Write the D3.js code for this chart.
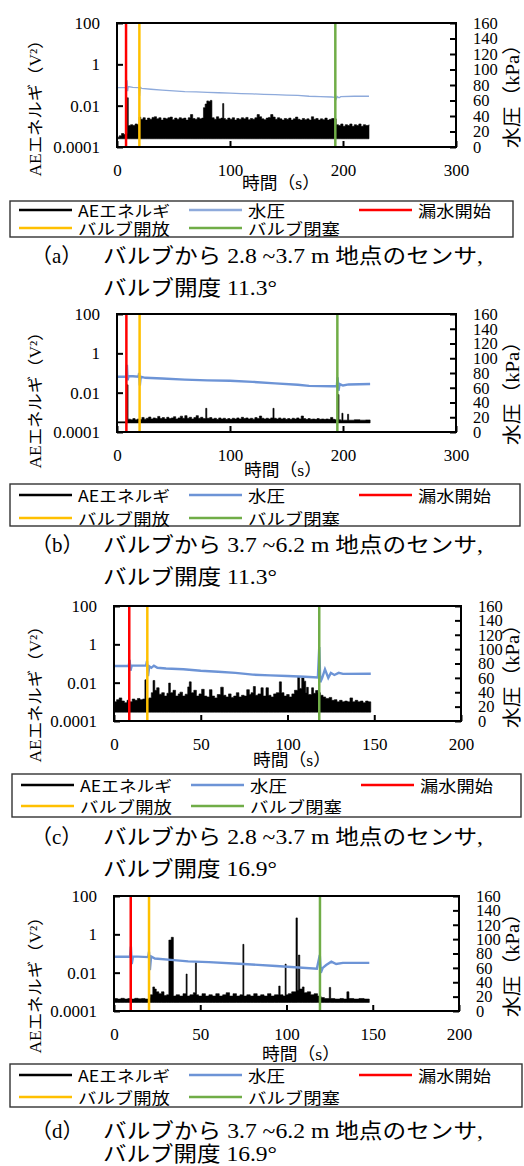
<!DOCTYPE html>
<html>
<head>
<meta charset="utf-8">
<script src="https://cdn.jsdelivr.net/npm/d3@7"></script>
<style>
body { margin: 0; background: #fff; }
svg { display: block; }
</style>
</head>
<body>
<div id="chart-area"></div>
<script>
// ---------- data ----------
// AE energy upper envelope [time s, V^2]
var aeA = [[0,3.0e-4],[2,3.5e-4],[4,4.5e-4],[6,4.0e-4],[8,4.5e-4],[9,0.024],[10,1.1e-3],[12,1.2e-3],[14,1.1e-3],[16,1.3e-3],[18,1.2e-3],
  [19.5,2.8e-3],[21,2.2e-3],[23,2.6e-3],[25,2.0e-3],[27,2.5e-3],[29,2.2e-3],[31,2.7e-3],[33,2.9e-3],[35,2.3e-3],[37,2.6e-3],[39,2.0e-3],
  [41,2.5e-3],[43,2.3e-3],[45,2.6e-3],[47,2.8e-3],[49,2.1e-3],[51,2.5e-3],[53,2.2e-3],[55,2.6e-3],[57,2.3e-3],[59,2.5e-3],[61,2.0e-3],
  [63,2.6e-3],[65,3.7e-3],[67,2.4e-3],[69,2.2e-3],[71,2.6e-3],[73,2.3e-3],[75,2.5e-3],[76.5,8e-3],[78,0.012],[79.5,0.017],[81,0.016],
  [82.5,0.018],[84,2.6e-3],[86,2.2e-3],[88,2.9e-3],[90,2.3e-3],[92,2.5e-3],[93.5,0.0126],[94.5,2.4e-3],[96,2.1e-3],[98,2.5e-3],
  [100,2.2e-3],[102,2.6e-3],[104,2.0e-3],[106,2.4e-3],[108,2.2e-3],[110,2.6e-3],[112,2.3e-3],[114,2.7e-3],[116,2.1e-3],[118,2.4e-3],
  [120,2.2e-3],[122,2.6e-3],[124,3.7e-3],[126,2.9e-3],[128,2.3e-3],[130,2.1e-3],[132,2.5e-3],[134,2.7e-3],[136,3.7e-3],[138,2.8e-3],
  [140,2.2e-3],[142,2.6e-3],[144,2.3e-3],[146,2.0e-3],[148,2.4e-3],[150,2.2e-3],[152,2.5e-3],[154,2.0e-3],[156,2.3e-3],[158,2.8e-3],
  [160,2.2e-3],[162,2.0e-3],[164,2.4e-3],[166,2.1e-3],[168,2.3e-3],[170,2.0e-3],[172,2.9e-3],[174,2.2e-3],[176,2.4e-3],[178,2.0e-3],
  [180,2.3e-3],[182,2.1e-3],[184,2.5e-3],[186,2.0e-3],[188,2.2e-3],[190,2.4e-3],[192,2.3e-3],[194,1.2e-3],[196,1.1e-3],[198,1.3e-3],
  [200,1.0e-3],[202,1.2e-3],[204,1.1e-3],[206,1.3e-3],[208,1.0e-3],[210,1.2e-3],[212,1.1e-3],[214,1.3e-3],[216,1.0e-3],[218,1.2e-3],
  [220,1.1e-3],[223,1.2e-3]];
var aeB = [[0,3.3e-4],[8.8,3.3e-4],[9,0.025],[9.8,4.5e-4],[12,4.2e-4],[14,4.8e-4],[16,4.2e-4],[18,4.6e-4],[20,4.3e-4],[22,5.5e-4],
  [24,4.5e-4],[26,5.0e-4],[28,5.8e-4],[30,4.6e-4],[32,5.2e-4],[34,4.8e-4],[36,6.2e-4],[38,4.8e-4],[40,5.4e-4],[42,4.6e-4],[44,5.6e-4],
  [46,4.8e-4],[48,5.2e-4],[50,6.0e-4],[52,4.6e-4],[54,5.2e-4],[56,6.4e-4],[58,5.0e-4],[60,6.8e-4],[62,5.0e-4],[64,5.6e-4],[66,4.6e-4],
  [68,5.4e-4],[70,6.8e-4],[72,5.0e-4],[74,5.6e-4],[76,4.8e-4],[78.5,1.6e-3],[79.5,5.0e-4],[82,5.4e-4],[84,4.6e-4],[86,5.0e-4],
  [88,4.4e-4],[90,5.2e-4],[92,4.6e-4],[94,5.0e-4],[96,4.4e-4],[98,4.8e-4],[100,4.4e-4],[102,5.0e-4],[104,4.6e-4],[106,5.2e-4],
  [108,4.6e-4],[110,5.6e-4],[112,4.8e-4],[114,5.2e-4],[116,4.6e-4],[118,5.0e-4],[120,4.5e-4],[122,5.4e-4],[124,4.8e-4],[126,6.5e-4],
  [128,5.0e-4],[130,4.6e-4],[132,5.0e-4],[134,4.6e-4],[136,5.2e-4],[138,1.6e-3],[139,5.0e-4],[141,4.6e-4],[143,5.2e-4],[145,4.6e-4],
  [147,5.0e-4],[149,4.4e-4],[151,4.8e-4],[153,4.4e-4],[155,5.0e-4],[157,4.6e-4],[159,5.2e-4],[161,4.6e-4],[163,6.5e-4],[165,4.8e-4],
  [167,4.4e-4],[169,4.8e-4],[171,4.4e-4],[173,4.6e-4],[175,4.4e-4],[177,4.8e-4],[179,4.4e-4],[181,4.6e-4],[183,4.4e-4],[185,4.6e-4],
  [187,4.4e-4],[189,5.5e-4],[191,4.4e-4],[193,4.2e-4],[195.5,8e-3],[196.5,4.2e-4],[198,4.0e-4],[199,9e-4],[200,4.0e-4],[204,8e-4],
  [205,4.0e-4],[210,4.2e-4],[215,4.0e-4],[220,4.1e-4],[224,4.0e-4]];
var aeC = [[0,1.0e-3],[1.5,1.3e-3],[3,1.6e-3],[4.5,1.1e-3],[6,9e-4],[7.5,1.2e-3],[9,1.0e-3],[10.5,1.4e-3],[12,1.2e-3],[13.5,1.5e-3],
  [15,1.3e-3],[16.5,1.4e-3],[17.8,0.014],[18.6,1.4e-3],[20,1.6e-3],[21.5,3e-3],[22.5,0.013],[23.5,4e-3],[24.6,5.4e-3],[26,2.5e-3],
  [27.5,3e-3],[29,2e-3],[30.5,2.8e-3],[31.5,9.5e-3],[32.5,3e-3],[34,4e-3],[35.5,2e-3],[37,2.6e-3],[38,3.2e-3],[39.5,2e-3],[41,2.5e-3],
  [42.5,6e-3],[43.4,0.011],[44.5,3e-3],[46,4e-3],[47.5,2e-3],[49,2.6e-3],[50.5,4.5e-3],[52,2e-3],[53.5,1.8e-3],[55,4.3e-3],[56.5,2e-3],
  [58,1.6e-3],[59.5,2.4e-3],[61.5,5.8e-3],[63,2.2e-3],[64.5,1.8e-3],[66,2.6e-3],[67.5,1.7e-3],[69,2e-3],[70.5,3e-3],[72,1.8e-3],
  [73.5,2.2e-3],[75,2e-3],[76.5,4.3e-3],[78,2.4e-3],[79,3e-3],[80.3,6.3e-3],[81.5,2.2e-3],[83,2.6e-3],[84.7,5.4e-3],[86,2e-3],
  [87.6,5.4e-3],[89,2.2e-3],[90.5,1.8e-3],[92,2.6e-3],[93.5,3e-3],[95.3,0.011],[96.5,3e-3],[98,2e-3],[99.5,2.4e-3],[101,1.8e-3],
  [102.5,2.6e-3],[104,4e-3],[105.9,0.021],[107,5e-3],[108.2,0.018],[109.5,0.012],[110.5,3e-3],[111,5.7e-3],[112,2.4e-3],[113.9,5.4e-3],
  [115,2.8e-3],[116.2,3.9e-3],[117.5,3e-3],[119,2.2e-3],[120.5,1.8e-3],[122,1.5e-3],[124,1.7e-3],[125.5,1.2e-3],[127,1.3e-3],
  [128.5,1.0e-3],[130,1.2e-3],[131.5,1.0e-3],[133,1.1e-3],[134.5,1.0e-3],[136,1.6e-3],[137.5,1.0e-3],[139,1.2e-3],[140.5,1.0e-3],
  [142,1.1e-3],[143.5,9e-4],[145,1.1e-3],[146.5,1.0e-3],[148,1.0e-3]];
var aeD = [[0,4.5e-4],[2,4.2e-4],[4,4.6e-4],[6,4.2e-4],[8,4.5e-4],[10,4.2e-4],[12,4.6e-4],[14,4.3e-4],[16,4.5e-4],[18,4.2e-4],
  [20,5e-4],[21,7e-4],[22.5,1.8e-3],[23.5,1.4e-3],[24.5,1.0e-3],[26,8e-4],[27.5,1.0e-3],[29,6.5e-4],[30.5,7e-4],[31.8,0.5],[33.2,0.7],
  [34.4,6e-4],[36,7e-4],[38,6e-4],[40,8e-4],[41.8,8.5e-3],[42.4,6e-4],[44,7e-4],[46,9e-4],[47.2,0.033],[47.8,7e-4],[49,6e-4],[51,8e-4],
  [53,6e-4],[55,7e-4],[57,6e-4],[59,8e-4],[61,6e-4],[63,7e-4],[65,9e-4],[67,6e-4],[69,8e-4],[71,6e-4],[73,7e-4],[74.7,0.3],[75.3,6e-4],
  [77,7e-4],[79,6e-4],[81,8e-4],[83,6e-4],[85,7e-4],[87,6e-4],[89,8e-4],[91,6e-4],[93,7e-4],[95.5,2e-3],[96.3,7e-4],[98,6e-4],
  [99.2,0.028],[99.8,7e-4],[101,8e-4],[103,1e-3],[105.5,7.2],[106.3,1.2e-3],[106.9,0.083],[107.7,1.4e-3],[109.2,1.8e-3],[110.2,9e-4],
  [112,1e-3],[114,7e-4],[116,8e-4],[118,6e-4],[120,5e-4],[122,4.5e-4],[124.8,1.7e-3],[125.6,4.5e-4],[128,4.2e-4],[131,4.5e-4],
  [133,4.2e-4],[135,1e-3],[136.2,4.5e-4],[139,4.2e-4],[142,4.5e-4],[145,4.2e-4],[148,4.2e-4]];
// lower edge of the AE band, V^2
var aeFloor = [2.5e-4, 2.9e-4, 2.9e-4, 2.8e-4];

// water pressure [time s, kPa]
var pressA = [[0,76.5],[8.5,76.5],[8.9,86],[9.4,72],[10,78],[14,77],[19,76.5],[19.6,75],[20,66],[20.6,77],[22,75.5],[30,74.5],
  [40,73.5],[50,72.5],[60,71.5],[70,71],[80,70.5],[90,70],[100,69.5],[110,69],[120,68.5],[130,68],[140,67.5],[150,67],[160,66.5],
  [170,65.5],[180,65],[190,64.5],[192.5,64],[193.3,68],[194,62],[195,65],[196.5,63.5],[198,65],[210,65.5],[223,65.5]];
var pressB = [[0,75],[8,75],[8.8,91],[9.4,70],[10.2,76],[14,75.5],[19,75],[19.6,80],[20.2,63],[21,75],[25,73.5],[40,72.5],[60,71],
  [80,70],[100,69.5],[120,68],[140,66],[160,64],[170,62.5],[190,62],[194.5,62],[195.2,74],[196,56],[197,65],[200,63],[205,64.5],[224,65]];
var pressC = [[0,76.5],[8.5,76.5],[9,85],[9.5,70],[10.2,77],[18.5,77],[19,83.5],[19.6,62.5],[20.3,76],[21.5,74],[23,77],[25,74],
  [30,73],[40,72],[50,70],[60,68.6],[70,67],[80,64.5],[90,63.5],[100,62.6],[110,61.5],[117.5,60.5],[118.3,103],[118.9,54],[120,60],
  [121.6,72],[123.5,60],[125,67],[127,64],[129.5,67],[132,65.5],[148,65.7]];
var pressD = [[0,75.5],[9.3,75.5],[9.8,89.5],[10.3,65.4],[11,76],[19.8,75],[20.3,82.5],[20.8,57],[21.5,76],[23.7,73],[33,71.1],
  [43,69],[55,68],[75,65.4],[94,62.6],[117.6,58.9],[119.3,78],[119.9,53.3],[121,60],[123,64],[126,68.6],[128.8,65.4],[132.7,67],[148,67]];

// event times: leak start, valve open, valve closed (s)
var eventsA = [8, 19.8, 193.2];
var eventsB = [8.3, 20, 195];
var eventsC = [8.8, 19.2, 118.3];
var eventsD = [9.7, 20.3, 119.4];

// ticks and labels
var xTicks300 = [0, 100, 200, 300];
var xTicks200 = [0, 50, 100, 150, 200];
var aeTicks = [100, 1, 0.01, 0.0001];
var aeTickText = ['100', '1', '0.01', '0.0001'];
var pressTicks = [0, 20, 40, 60, 80, 100, 120, 140, 160];
var legendNames = ['AEエネルギ', '水圧', '漏水開始', 'バルブ開放', 'バルブ閉塞'];
var captionTags = ['（a）', '（b）', '（c）', '（d）'];
var captionMain = ['バルブから 2.8 ~3.7 m 地点のセンサ,', 'バルブから 3.7 ~6.2 m 地点のセンサ,',
                   'バルブから 2.8 ~3.7 m 地点のセンサ,', 'バルブから 3.7 ~6.2 m 地点のセンサ,'];
var captionSub = ['バルブ開度 11.3°', 'バルブ開度 11.3°', 'バルブ開度 16.9°', 'バルブ開度 16.9°'];
var yTitle = 'AEエネルギ（V²）', y2Title = '水圧（kPa）', xTitle = '時間（s）';

// ---------- layout ----------
var eventColors = ['#ff0000', '#ffc000', '#70ad47'];
var serif = '"Liberation Serif", "Noto Sans CJK JP", serif';
var sans = '"Noto Sans CJK JP", sans-serif';

var panels = [
  {ae: aeA, press: pressA, events: eventsA, xMax: 300, xTicks: xTicks300, left: 117, right: 456, top: 23, bottom: 147,
   pColor: '#8eaadb', pWidth: 1.3, yT: 104, y2T: 91, xT: [281, 183], leg: [10, 201, 503, 36, 9, 27], cap: [256, 288]},
  {ae: aeB, press: pressB, events: eventsB, xMax: 300, xTicks: xTicks300, left: 117, right: 456, top: 314, bottom: 432,
   pColor: '#6d94d6', pWidth: 2.4, yT: 396, y2T: 388, xT: [283, 470], leg: [10, 484, 510, 42, 11, 34], cap: [545, 577]},
  {ae: aeC, press: pressC, events: eventsC, xMax: 200, xTicks: xTicks200, left: 114, right: 461, top: 606, bottom: 721,
   pColor: '#6d94d6', pWidth: 2.4, yT: 690, y2T: 671, xT: [292, 760], leg: [12, 774, 509, 43, 11, 32], cap: [837, 869]},
  {ae: aeD, press: pressD, events: eventsD, xMax: 200, xTicks: xTicks200, left: 114, right: 459, top: 896, bottom: 1011,
   pColor: '#6d94d6', pWidth: 2.4, yT: 981, y2T: 960, xT: [301, 1054], leg: [10, 1064, 512, 43, 11, 33], cap: [1131, 1154]}
];

var svg = d3.select('#chart-area').append('svg')
    .attr('width', 524)
    .attr('height', 1166);

panels.forEach(function(p, i) {
  var g = svg.append('g');

  var x = d3.scaleLinear().domain([0, p.xMax]).range([p.left, p.right]);
  var yL = d3.scaleLog().domain([1e-4, 100]).range([p.bottom, p.top]);
  var yR = d3.scaleLinear().domain([0, 160]).range([p.bottom, p.top]);

  //AE energy band
  var area = d3.area()
    .curve(d3.curveStepAfter)
    .x(function(d) { return x(d[0]); })
    .y0(yL(aeFloor[i]))
    .y1(function(d) { return yL(d[1]); });
  g.append('path')
    .datum(p.ae)
    .attr('d', area)
    .attr('fill', '#000')
    .attr('stroke', '#000')
    .attr('stroke-width', 0.6);

  //water pressure
  var line = d3.line()
    .x(function(d) { return x(d[0]); })
    .y(function(d) { return yR(d[1]); });
  g.append('path')
    .datum(p.press)
    .attr('d', line)
    .attr('fill', 'none')
    .attr('stroke', p.pColor)
    .attr('stroke-width', p.pWidth);

  //event lines
  g.selectAll('.event')
    .data(p.events)
    .enter().append('line')
    .attr('x1', function(d) { return x(d); })
    .attr('x2', function(d) { return x(d); })
    .attr('y1', p.top)
    .attr('y2', p.bottom)
    .attr('stroke', function(d, k) { return eventColors[k]; })
    .attr('stroke-width', 2.5);

  //axes
  var xAxis = g.append('g')
    .attr('transform', 'translate(0,' + p.bottom + ')')
    .call(d3.axisBottom(x).tickValues(p.xTicks).tickSize(-6).tickPadding(17));
  var yAxis = g.append('g')
    .attr('transform', 'translate(' + p.left + ',0)')
    .call(d3.axisLeft(yL).tickValues(aeTicks).tickSize(-6).tickPadding(17)
      .tickFormat(function(d, k) { return aeTickText[k]; }));
  var y2Axis = g.append('g')
    .attr('transform', 'translate(' + p.right + ',0)')
    .call(d3.axisRight(yR).tickValues(pressTicks).tickSize(-6).tickPadding(17));

  [xAxis, yAxis, y2Axis].forEach(function(a) {
    a.attr('font-family', serif).attr('font-size', 17);
    a.select('.domain').remove();
    a.selectAll('line').attr('stroke', '#000').attr('stroke-width', 2);
    a.selectAll('text').attr('fill', '#000').attr('font-family', serif);
  });
  y2Axis.attr('font-size', 16.5);

  //plot frame
  g.append('rect')
    .attr('x', p.left)
    .attr('y', p.top)
    .attr('width', p.right - p.left)
    .attr('height', p.bottom - p.top)
    .attr('fill', 'none')
    .attr('stroke', '#000')
    .attr('stroke-width', 2);

  //axis titles
  g.append('text')
    .attr('transform', 'translate(35,' + p.yT + ') rotate(-90)')
    .attr('text-anchor', 'middle')
    .attr('dominant-baseline', 'central')
    .attr('font-family', serif)
    .attr('font-size', 16)
    .attr('textLength', 145)
    .attr('lengthAdjust', 'spacingAndGlyphs')
    .text(yTitle);
  g.append('text')
    .attr('transform', 'translate(512,' + p.y2T + ') rotate(-90)')
    .attr('text-anchor', 'middle')
    .attr('dominant-baseline', 'central')
    .attr('font-family', serif)
    .attr('font-size', 19)
    .attr('textLength', 114)
    .attr('lengthAdjust', 'spacingAndGlyphs')
    .text(y2Title);
  g.append('text')
    .attr('x', p.xT[0])
    .attr('y', p.xT[1])
    .attr('text-anchor', 'middle')
    .attr('dominant-baseline', 'central')
    .attr('font-family', serif)
    .attr('font-size', 17)
    .attr('textLength', 78)
    .attr('lengthAdjust', 'spacingAndGlyphs')
    .text(xTitle);

  //legend
  var lx = p.leg[0], ly = p.leg[1];
  g.append('rect')
    .attr('x', lx).attr('y', ly)
    .attr('width', p.leg[2]).attr('height', p.leg[3])
    .attr('fill', 'none')
    .attr('stroke', '#333')
    .attr('stroke-width', 1.4);
  var legColors = ['#000', p.pColor, eventColors[0], eventColors[1], eventColors[2]];
  var legCols = [0, 170, 340, 0, 170];
  var legRows = [p.leg[4], p.leg[4], p.leg[4], p.leg[5], p.leg[5]];
  var legWidths = [92, 37, 73, 92, 92];
  legendNames.forEach(function(name, k) {
    var cx = lx + legCols[k], cy = ly + legRows[k];
    g.append('line')
      .attr('x1', cx + 9).attr('x2', cx + 62)
      .attr('y1', cy).attr('y2', cy)
      .attr('stroke', legColors[k])
      .attr('stroke-width', 2.5);
    g.append('text')
      .attr('x', cx + 68)
      .attr('y', cy)
      .attr('dominant-baseline', 'central')
      .attr('font-family', sans)
      .attr('font-size', 15.5)
      .attr('textLength', legWidths[k])
      .attr('lengthAdjust', 'spacingAndGlyphs')
      .text(name);
  });

  //caption
  g.append('text')
    .attr('x', 31).attr('y', p.cap[0])
    .attr('dominant-baseline', 'central')
    .attr('font-family', serif)
    .attr('font-size', 21)
    .text(captionTags[i]);
  g.append('text')
    .attr('x', 103).attr('y', p.cap[0])
    .attr('dominant-baseline', 'central')
    .attr('font-family', serif)
    .attr('font-size', 21)
    .attr('textLength', 380)
    .attr('lengthAdjust', 'spacingAndGlyphs')
    .text(captionMain[i]);
  g.append('text')
    .attr('x', 103).attr('y', p.cap[1])
    .attr('dominant-baseline', 'central')
    .attr('font-family', serif)
    .attr('font-size', 21)
    .attr('textLength', 174)
    .attr('lengthAdjust', 'spacingAndGlyphs')
    .text(captionSub[i]);
});
</script>
</body>
</html>
